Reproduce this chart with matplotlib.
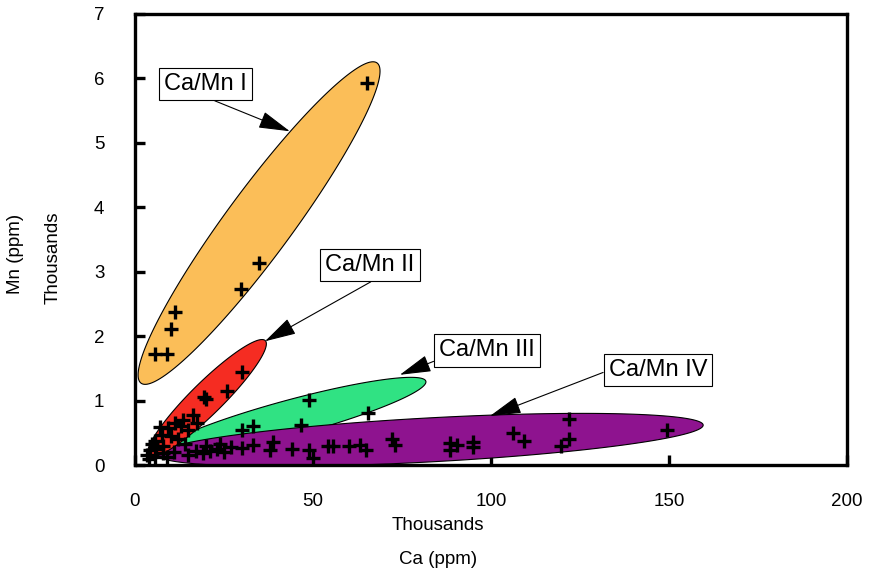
import numpy as np
import matplotlib
matplotlib.use("Agg")
import matplotlib.pyplot as plt
from matplotlib.patches import Polygon

plt.rcParams['font.family'] = ['Liberation Sans', 'DejaVu Sans']

# .----------------------------------------------------------------------------.
# Data (Ca and Mn in thousands of ppm)

ca_1 = [65.2, 34.8, 29.8, 11.2, 10.1, 5.6, 9.0]
mn_1 = [5.93, 3.14, 2.73, 2.38, 2.11, 1.72, 1.72]

ca_2 = [30.1, 25.8, 19.4, 20.0, 16.3, 13.5, 17.5, 11.2, 13.0, 9.3, 7.0, 15.0,
        7.6, 10.0, 12.0, 5.5, 4.7, 8.0, 14.0]
mn_2 = [1.44, 1.15, 1.06, 1.02, 0.78, 0.70, 0.65, 0.65, 0.60, 0.57, 0.59, 0.55,
        0.47, 0.45, 0.40, 0.38, 0.33, 0.30, 0.32]

ca_3 = [48.9, 65.5, 46.6, 30.1, 33.2, 20.0, 24.0]
mn_3 = [1.01, 0.80, 0.62, 0.55, 0.61, 0.30, 0.32]

ca_4 = [4.2, 7.9, 3.3, 5.6, 9.0, 11.0, 6.0, 17.0, 19.0, 21.0, 23.0, 25.0, 27.0,
        15.0, 4.0, 38.8, 33.2, 30.0, 37.9, 44.2, 48.9, 50.0, 54.3, 55.7, 60.1,
        63.2, 64.9, 72.1, 73.0, 88.5, 88.5, 90.5, 95.0, 95.0, 106.3, 109.3,
        122.0, 122.0, 119.7, 149.3]
mn_4 = [0.23, 0.19, 0.15, 0.12, 0.12, 0.20, 0.25, 0.22, 0.18, 0.22, 0.25, 0.20,
        0.28, 0.15, 0.10, 0.36, 0.31, 0.26, 0.23, 0.25, 0.23, 0.11, 0.30, 0.30,
        0.30, 0.31, 0.24, 0.41, 0.31, 0.34, 0.23, 0.31, 0.36, 0.28, 0.50, 0.37,
        0.72, 0.41, 0.30, 0.54]

# Group envelopes: major axis end points (data) and half width (pixels)
env_names  = ["Ca/Mn I", "Ca/Mn III", "Ca/Mn IV", "Ca/Mn II"]
env_start  = [(1.7, 1.27), (5.6, 0.16), (6.2, 0.16), (3.8, 0.14)]
env_end    = [(68.0, 6.24), (81.7, 1.30), (159.6, 0.62), (36.6, 1.93)]
env_width  = [33, 18, 22, 16]
env_colors = ['#FBBE58', '#30E283', '#8E138F', '#F52C22']

# Labels: text position and arrow target
lab_names = ["Ca/Mn I", "Ca/Mn II", "Ca/Mn III", "Ca/Mn IV"]
lab_text  = [(19.7, 5.91), (66.0, 3.10), (98.9, 1.78), (146.9, 1.47)]
lab_tip   = [(43.5, 5.18), (36.5, 1.92), (74.4, 1.40), (99.7, 0.76)]
lab_rel   = [(0.45, 0.0), (0.62, 0.0), (0.0, 0.1), (0.0, 0.5)]

# .----------------------------------------------------------------------------.

fig = plt.figure(figsize=(8.78, 5.74), dpi=100)
ax = fig.add_axes([135/878, 1 - 465/574, 712/878, 451/574])
ax.set_xlim(0, 200)
ax.set_ylim(0, 7)

# Envelopes, built in display space so the shape matches the screen
t = np.linspace(0, 2*np.pi, 200)
for p0, p1, w, c in zip(env_start, env_end, env_width, env_colors):
    d0 = ax.transData.transform(p0)
    d1 = ax.transData.transform(p1)
    cen = (d0 + d1) / 2
    vec = (d1 - d0) / 2
    a = np.hypot(*vec)
    ang = np.arctan2(vec[1], vec[0])
    ex = a*np.cos(t)*np.cos(ang) - w*np.sin(t)*np.sin(ang) + cen[0]
    ey = a*np.cos(t)*np.sin(ang) + w*np.sin(t)*np.cos(ang) + cen[1]
    pts = ax.transData.inverted().transform(np.column_stack([ex, ey]))
    ax.add_patch(Polygon(pts, closed=True, fc=c, ec='black', lw=0.8, zorder=2))

for xs, ys in [(ca_1, mn_1), (ca_2, mn_2), (ca_3, mn_3), (ca_4, mn_4)]:
    ax.plot(xs, ys, '+', color='black', ms=10, mew=2.4, zorder=3)

for name, txt, tip, rel in zip(lab_names, lab_text, lab_tip, lab_rel):
    ax.annotate(name, xy=tip, xytext=txt, fontsize=17,
                ha='center', va='center', zorder=4,
                bbox=dict(boxstyle='square,pad=0.22', fc='white', ec='black', lw=0.8),
                arrowprops=dict(arrowstyle='-|>,head_length=1.1,head_width=0.3',
                                color='black', lw=0.8, relpos=rel,
                                shrinkA=0, shrinkB=0, mutation_scale=18))

for s in ax.spines.values():
    s.set_linewidth(2.4)
    s.set_zorder(5)

ax.set_xticks([0, 50, 100, 150, 200])
ax.set_yticks(range(0, 8))
ax.tick_params(direction='in', length=7, width=2.4, labelsize=13.5)
ax.tick_params(axis='x', pad=20)
ax.tick_params(axis='y', pad=22)

fig.text(438/878, 1 - 526/574, "Thousands", ha='center', va='center', fontsize=13.5)
fig.text(438/878, 1 - 559/574, "Ca (ppm)", ha='center', va='center', fontsize=13.5)
fig.text(53/878, 1 - 258/574, "Thousands", ha='center', va='center',
         fontsize=13.5, rotation=90)
fig.text(16/878, 1 - 254/574, "Mn (ppm)", ha='center', va='center',
         fontsize=13.5, rotation=90)

fig.savefig("out.png", dpi=100)
